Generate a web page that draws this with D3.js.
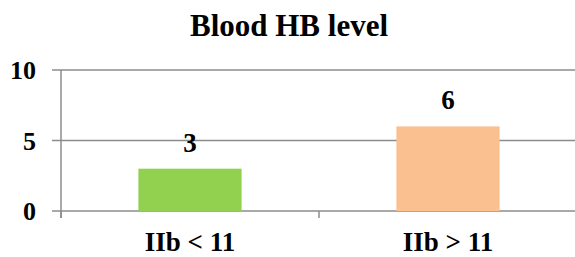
<!DOCTYPE html>
<html>
<head>
<meta charset="utf-8">
<script src="https://cdn.jsdelivr.net/npm/d3@7"></script>
<style>
  body { margin: 0; background: #fff; }
</style>
</head>
<body>
<div id="chart"></div>
<script>
var categories = ["IIb < 11", "IIb > 11"];
var values = [3, 6];
var barColors = ["#92D050", "#FAC090"];
var yTicks = [0, 5, 10];

var width = 575, height = 257;
var margin = {top: 70, left: 61, right: -2, bottom: 46};
var serif = "'Times New Roman', 'Liberation Serif', 'DejaVu Serif', serif";

var svg = d3.select("#chart").append("svg")
    .attr("width", width)
    .attr("height", height)
    .attr("font-family", serif)
    .attr("font-weight", "bold");

var y = d3.scaleLinear().domain([0, 10]).range([height - margin.bottom, margin.top]);
var x = d3.scaleBand().domain(categories)
    .range([margin.left, width - margin.right])
    .paddingInner(0.6).paddingOuter(0.3);

// title
svg.append("text")
    .attr("x", 289)
    .attr("y", 36)
    .attr("text-anchor", "middle")
    .attr("font-size", 31)
    .text("Blood HB level");

// gridlines
svg.selectAll(".grid")
    .data(yTicks)
    .enter().append("line")
    .attr("class", "grid")
    .attr("x1", 52)
    .attr("x2", width)
    .attr("y1", function(d){ return y(d); })
    .attr("y2", function(d){ return y(d); })
    .style("stroke", "#8c8c8c")
    .style("stroke-width", 1.5);

// y tick labels
svg.selectAll(".ylab")
    .data(yTicks)
    .enter().append("text")
    .attr("class", "ylab")
    .attr("x", 36)
    .attr("y", function(d){ return y(d); })
    .attr("dy", "0.35em")
    .attr("text-anchor", "end")
    .attr("font-size", 26)
    .text(function(d){ return d; });

// y axis line
svg.append("line")
    .attr("x1", margin.left).attr("x2", margin.left)
    .attr("y1", y(10)).attr("y2", y(0) + 7)
    .style("stroke", "#8c8c8c")
    .style("stroke-width", 1.5);

// category boundary ticks
var step = x.step();
svg.selectAll(".ctick")
    .data(d3.range(categories.length + 1))
    .enter().append("line")
    .attr("class", "ctick")
    .attr("x1", function(i){ return margin.left + i * step; })
    .attr("x2", function(i){ return margin.left + i * step; })
    .attr("y1", y(0))
    .attr("y2", y(0) + 7)
    .style("stroke", "#8c8c8c")
    .style("stroke-width", 1.5);

// bars
svg.selectAll(".bar")
    .data(values)
    .enter().append("rect")
    .attr("class", "bar")
    .attr("x", function(d, i){ return x(categories[i]); })
    .attr("width", x.bandwidth())
    .attr("y", function(d){ return y(d); })
    .attr("height", function(d){ return y(0) - y(d); })
    .style("fill", function(d, i){ return barColors[i]; });

// value labels
svg.selectAll(".count-value")
    .data(values)
    .enter().append("text")
    .attr("class", "count-value")
    .attr("x", function(d, i){ return x(categories[i]) + x.bandwidth() / 2; })
    .attr("y", function(d){ return y(d) - 17; })
    .attr("text-anchor", "middle")
    .attr("font-size", 27)
    .text(function(d){ return d; });

// category labels
svg.selectAll(".xlab")
    .data(categories)
    .enter().append("text")
    .attr("class", "xlab")
    .attr("x", function(d){ return x(d) + x.bandwidth() / 2; })
    .attr("y", 251)
    .attr("text-anchor", "middle")
    .attr("font-size", 27)
    .text(function(d){ return d; });
</script>
</body>
</html>
